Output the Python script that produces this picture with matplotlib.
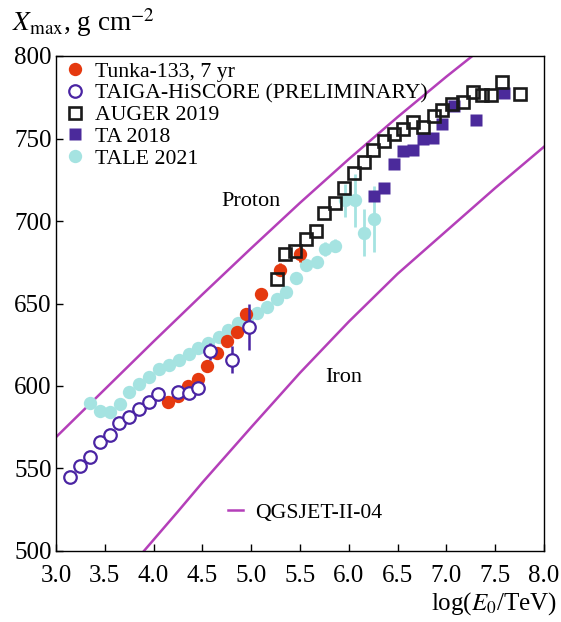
import matplotlib
matplotlib.use("Agg")
import numpy as np
import matplotlib.pyplot as plt
from matplotlib.lines import Line2D

plt.rcParams['font.family'] = ['Liberation Serif', 'DejaVu Serif']
plt.rcParams['mathtext.fontset'] = 'stix'

# QGSJET-II-04 model curves
proton_x = [3.0, 3.5, 4.0, 4.5, 5.0, 5.5, 6.0, 6.5, 7.0, 7.5]
proton_y = [569, 598, 627, 655.5, 683.5, 711, 737.5, 763, 787.5, 811]
iron_x = [3.85, 4.25, 4.5, 5.0, 5.5, 6.0, 6.5, 7.0, 7.5, 8.0]
iron_y = [496.5, 524, 541.5, 575, 608, 639, 668, 694, 720, 745]

# Tunka-133, 7 yr
tunka_x = [4.15, 4.25, 4.35, 4.45, 4.55, 4.65, 4.75, 4.85, 4.95, 5.1, 5.3, 5.5]
tunka_y = [590, 594, 600, 604, 612, 620, 627.5, 632.5, 643.5, 656, 670.5, 680]
tunka_err = [2, 2, 2, 2, 2, 2, 2, 2, 2, 3, 4, 5]

# TAIGA-HiSCORE
hiscore_x = [3.14, 3.25, 3.35, 3.45, 3.55, 3.65, 3.75, 3.85, 3.95, 4.05,
             4.25, 4.36, 4.46, 4.58, 4.80, 4.98]
hiscore_y = [545, 551.5, 557, 566, 570, 577.5, 581, 586, 590, 595,
             596.5, 596, 599, 621, 616, 636]
hiscore_err = [0, 0, 0, 0, 0, 0, 0, 0, 0, 0, 0, 0, 0, 5, 8, 14]

# AUGER 2019
auger_x = [5.26, 5.35, 5.45, 5.56, 5.66, 5.75, 5.86, 5.95, 6.05, 6.16, 6.25,
           6.36, 6.46, 6.56, 6.66, 6.76, 6.87, 6.96, 7.06, 7.17, 7.27, 7.36,
           7.46, 7.57, 7.75]
auger_y = [665, 680, 682, 689, 694, 705, 711, 720, 729, 736, 743,
           748.5, 753, 755.5, 760, 757, 763.5, 767, 771, 772, 778, 776.5,
           776.5, 784.5, 777]

# TA 2018
ta_x = [6.26, 6.36, 6.46, 6.56, 6.66, 6.76, 6.86, 6.96, 7.08, 7.30, 7.59]
ta_y = [715, 720, 734.5, 742.5, 743, 750, 750.5, 758.5, 770, 761.5, 777.5]

# TALE 2021
tale_x = [3.35, 3.45, 3.55, 3.66, 3.75, 3.85, 3.95, 4.06, 4.16, 4.26, 4.36,
          4.46, 4.56, 4.67, 4.76, 4.86, 4.96, 5.06, 5.16, 5.26, 5.36, 5.46,
          5.56, 5.67, 5.76, 5.86, 5.96, 6.06, 6.16, 6.26]
tale_y = [589.5, 585, 584.5, 589, 596.5, 601, 605.5, 610, 613, 616, 619.5,
          623, 626, 630, 634, 638, 641, 644, 648, 653, 657, 665.5,
          673.5, 675, 683, 685, 712.5, 712.5, 693, 701.5]
tale_err = [0] * 24 + [4, 4, 10, 16, 14, 20]

red = '#e5390f'
indigo = '#4a24a3'
ta_col = '#4b2a9b'
cyan = '#a5e3e1'
mag = '#b43fb9'

fig = plt.figure(figsize=(5.61, 6.22), dpi=100)
ax = fig.add_axes([56 / 561, 1 - 551 / 622, 488 / 561, 495 / 622])

ax.plot(proton_x, proton_y, color=mag, lw=1.8, zorder=1)
ax.plot(iron_x, iron_y, color=mag, lw=1.8, zorder=1)

ax.errorbar(tale_x, tale_y, yerr=tale_err, fmt='o', color=cyan, ms=9.6,
            mec='none', elinewidth=2, capsize=0, zorder=2)
ax.errorbar(tunka_x, tunka_y, yerr=tunka_err, fmt='o', color=red, ms=9.6,
            mec='none', elinewidth=2, capsize=0, zorder=3)
ax.errorbar(hiscore_x, hiscore_y, yerr=hiscore_err, fmt='o', color=indigo, ms=9,
            mfc='white', mec=indigo, mew=1.6, elinewidth=1.8, capsize=0, zorder=4)
ax.plot(ta_x, ta_y, 's', color=ta_col, ms=8.5, mec='none', zorder=5)
ax.plot(auger_x, auger_y, 's', ms=9.3, mfc='none', mec='#1a1a1a', mew=1.9, zorder=6)

ax.set_xlim(3.0, 8.0)
ax.set_ylim(500, 800)
ax.set_xticks(np.arange(3.0, 8.01, 0.5))
ax.set_xticklabels(['%.1f' % v for v in np.arange(3.0, 8.01, 0.5)])
ax.set_yticks(np.arange(500, 801, 50))
ax.tick_params(direction='in', length=5, width=1, labelsize=18)
ax.tick_params(axis='x', pad=10)
ax.tick_params(axis='y', pad=3)
for s in ax.spines.values():
    s.set_linewidth(1)

ax.text(5.0, 712, 'Proton', fontsize=16, ha='center', va='center')
ax.text(5.95, 605, 'Iron', fontsize=16, ha='center', va='center')

hs = [Line2D([], [], ls='none', marker='o', ms=9.6, color=red, mec='none'),
      Line2D([], [], ls='none', marker='o', ms=9, mfc='white', mec=indigo, mew=1.6),
      Line2D([], [], ls='none', marker='s', ms=9.3, mfc='none', mec='#1a1a1a', mew=1.9),
      Line2D([], [], ls='none', marker='s', ms=8.5, color=ta_col, mec='none'),
      Line2D([], [], ls='none', marker='o', ms=9.6, color=cyan, mec='none')]
labels = ['Tunka-133, 7 yr', 'TAIGA-HiSCORE (PRELIMINARY)', 'AUGER 2019', 'TA 2018', 'TALE 2021']
leg = ax.legend(hs, labels, loc='upper left', bbox_to_anchor=(0.021, 0.989), frameon=False,
                fontsize=15.7, handlelength=0.8, handletextpad=0.52, labelspacing=0.07,
                borderaxespad=0, borderpad=0)
ax.add_artist(leg)
qline = Line2D([], [], color=mag, lw=1.8)
ax.legend([qline], ['QGSJET-II-04'], loc='center left', bbox_to_anchor=(0.352, 0.077),
          frameon=False, fontsize=15.7, handlelength=0.69, handletextpad=0.55,
          borderaxespad=0, borderpad=0)

fig.text(12 / 561, 1 - 31 / 622, r'$X_{\rm max}$, g cm$^{-2}$', fontsize=19.5, va='baseline')
fig.text(557 / 561, 1 - 610 / 622, r'log($E_0$/TeV)', fontsize=18, ha='right', va='baseline')

fig.savefig('out.png', dpi=100)
